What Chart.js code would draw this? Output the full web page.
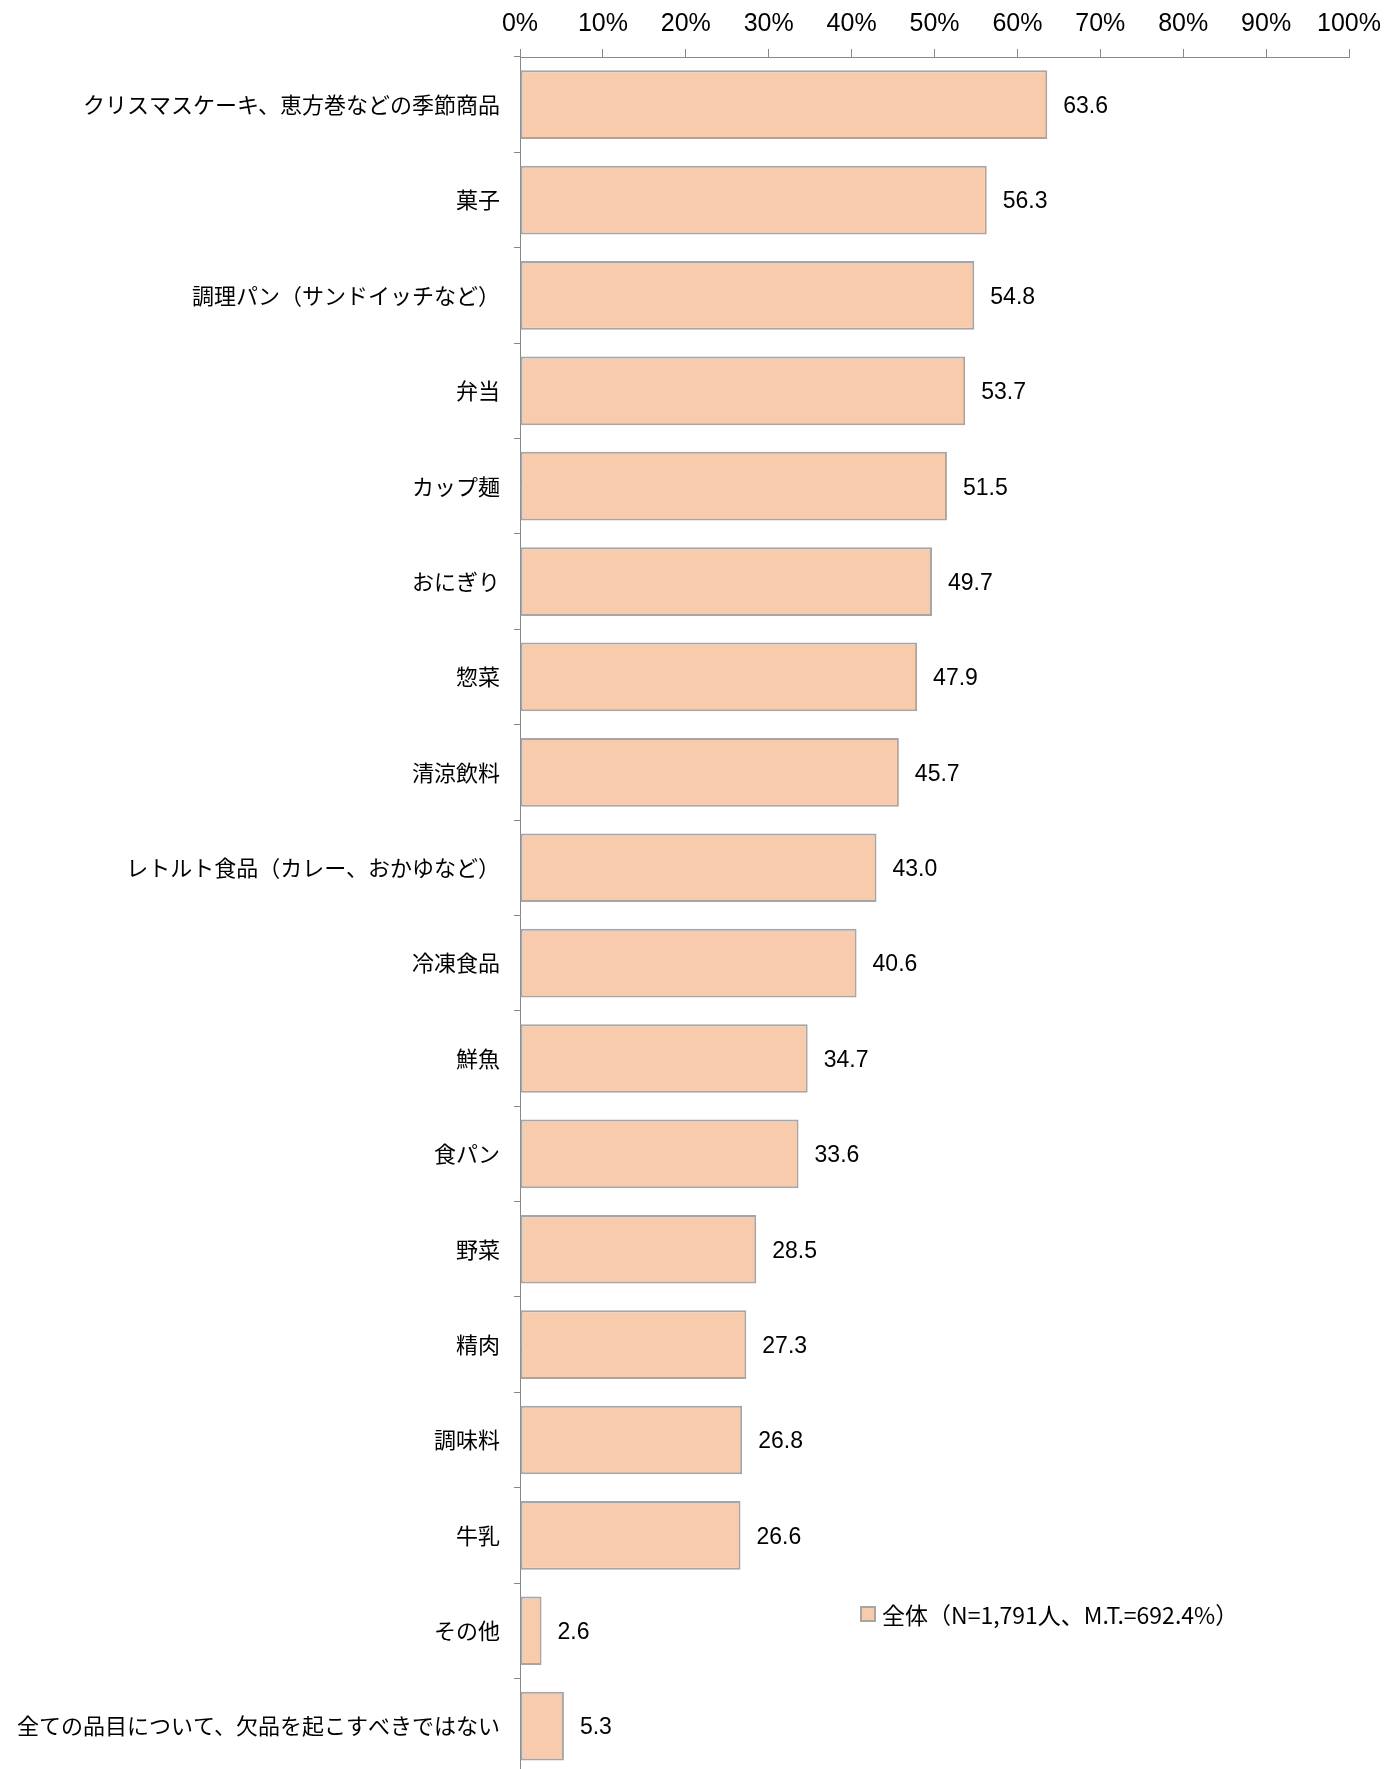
<!doctype html>
<html>
<head>
<meta charset="utf-8" />
<style>
  html, body { margin:0; padding:0; background:#fff; overflow:hidden; }
  .wrap { position:relative; width:1400px; height:1801px; }
  .legend { position:absolute; left:860px; top:1597px; font-family:"Noto Sans CJK JP", sans-serif; font-size:23px; color:#000; display:flex; align-items:center; white-space:nowrap; }
  .legend .box { width:12px; height:12px; background:#F8CBAD; border:2px solid #A6A6A6; margin-right:6px; }
</style>
</head>
<body>
<div class="wrap">
  <canvas id="c"></canvas>
  <div class="legend"><span class="box"></span>全体（N=1,791人、M.T.=692.4%）</div>
</div>
<script src="https://cdn.jsdelivr.net/npm/chart.js"></script>
<script>
const categories = [
  "クリスマスケーキ、恵方巻などの季節商品",
  "菓子",
  "調理パン（サンドイッチなど）",
  "弁当",
  "カップ麺",
  "おにぎり",
  "惣菜",
  "清涼飲料",
  "レトルト食品（カレー、おかゆなど）",
  "冷凍食品",
  "鮮魚",
  "食パン",
  "野菜",
  "精肉",
  "調味料",
  "牛乳",
  "その他",
  "全ての品目について、欠品を起こすべきではない"
];
const values = [63.6, 56.3, 54.8, 53.7, 51.5, 49.7, 47.9, 45.7, 43.0, 40.6, 34.7, 33.6, 28.5, 27.3, 26.8, 26.6, 2.6, 5.3];
const seriesName = "全体（N=1,791人、M.T.=692.4%）";

const numFont = '"Liberation Sans Narrow", "Liberation Sans", Arial, sans-serif';

// value labels to the right of each bar
const valueLabels = {
  id: "valueLabels",
  afterDatasetsDraw(chart) {
    const ctx = chart.ctx;
    const meta = chart.getDatasetMeta(0);
    ctx.save();
    ctx.font = "23px " + numFont;
    ctx.fillStyle = "#000";
    ctx.textAlign = "left";
    ctx.textBaseline = "middle";
    meta.data.forEach((bar, i) => {
      ctx.fillText(values[i].toFixed(1), bar.x + 16, bar.y + 2);
    });
    ctx.restore();
  }
};

const c = document.getElementById("c");
c.width = 1400; c.height = 1801;

new Chart(c, {
  type: "bar",
  data: {
    labels: categories,
    datasets: [{
      label: seriesName,
      data: values,
      backgroundColor: "#F8CBAD",
      borderColor: "#A6A6A6",
      borderWidth: 2,
      borderSkipped: false,
      barPercentage: 0.72,
      categoryPercentage: 1
    }]
  },
  options: {
    indexAxis: "y",
    responsive: false,
    animation: false,
    layout: { padding: { left: 0, right: 51, top: 0, bottom: 0 } },
    plugins: { legend: { display: false }, tooltip: { enabled: false } },
    scales: {
      x: {
        position: "top",
        min: 0, max: 100,
        ticks: {
          stepSize: 10,
          callback: (v) => v + "%",
          color: "#000",
          font: { family: numFont, size: 25 },
          padding: 10
        },
        grid: { drawOnChartArea: false, tickLength: 8, color: "#888" },
        border: { display: true, color: "#888", width: 1 },
        afterFit(s) { s.height = 57; }
      },
      y: {
        ticks: {
          color: "#000",
          font: { family: '"Noto Sans CJK JP", sans-serif', size: 22 },
          padding: 14,
          autoSkip: false
        },
        grid: { drawOnChartArea: false, offset: true, tickLength: 6, color: "#888" },
        border: { display: true, color: "#888", width: 1 },
        afterFit(s) { s.width = 520; }
      }
    }
  },
  plugins: [valueLabels]
});
</script>
</body>
</html>
